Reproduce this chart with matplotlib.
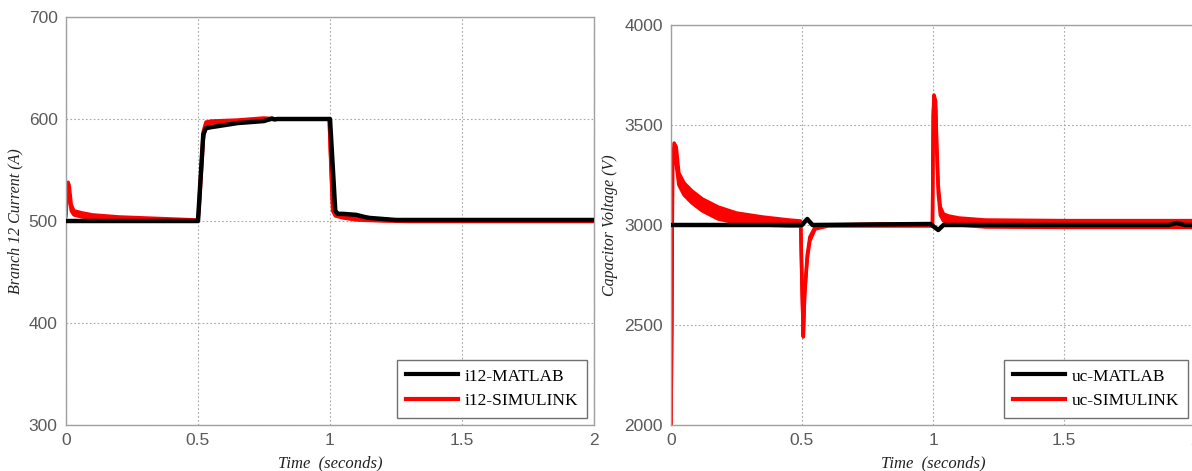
import numpy as np
import matplotlib
matplotlib.use("Agg")
import matplotlib.pyplot as plt

# ---------- data: left panel (branch 12 current) ----------
i12_mat_t = [0, 0.5, 0.52, 0.53, 0.55, 0.6, 0.65, 0.7, 0.75, 0.78, 0.79, 0.8, 1.0,
             1.02, 1.03, 1.05, 1.1, 1.13, 1.15, 1.2, 1.25, 2.0]
i12_mat = [500, 500, 585, 591, 592, 594, 596, 597, 598, 600.5, 599.5, 600, 600,
           510, 507, 507, 506, 504, 503, 502, 501, 501]

i12_sim_t = [0, 0.003, 0.008, 0.012, 0.02, 0.03, 0.06, 0.1, 0.2, 0.3, 0.5, 0.505,
             0.52, 0.53, 0.55, 0.65, 0.75, 0.8, 0.997, 1.003, 1.01, 1.02, 1.05, 1.1,
             1.2, 1.3, 1.4, 2.0]
i12_sim_hi = [508, 530, 538, 535, 516, 510, 508, 506, 504, 503, 501, 522,
              588, 597, 598, 599, 601, 600, 600, 560, 515, 507, 505, 503,
              501, 500.5, 500, 500]
i12_sim_lo = [505, 520, 530, 525, 510, 506, 504, 503, 502, 501, 500, 515,
              580, 594, 596, 598, 599, 600, 600, 555, 510, 505, 503, 501,
              500, 499.5, 499.5, 499.5]

# ---------- data: right panel (capacitor voltage) ----------
uc_mat_t = [0, 0.5, 0.52, 0.54, 0.99, 1.02, 1.04, 1.9, 1.93, 1.96, 2.0]
uc_mat = [3000, 3000, 3030, 3000, 3005, 2975, 3000, 3000, 3010, 3000, 3000]

uc_sim_t = [0, 0.003, 0.006, 0.012, 0.02, 0.03, 0.05, 0.08, 0.12, 0.18, 0.25,
            0.35, 0.45, 0.495, 0.5, 0.505, 0.51, 0.52, 0.53, 0.55, 0.6, 0.8,
            0.998, 1.001, 1.004, 1.01, 1.014, 1.02, 1.028, 1.04, 1.06, 1.1,
            1.2, 1.5, 1.8, 2.0]
uc_sim_hi = [2000, 2500, 3300, 3410, 3390, 3260, 3210, 3170, 3130, 3090, 3060,
             3040, 3025, 3020, 2700, 2450, 2650, 2850, 2940, 2990, 3000, 3005,
             3005, 3560, 3650, 3620, 3420, 3200, 3090, 3055, 3045, 3035,
             3025, 3022, 3022, 3022]
uc_sim_lo = [2000, 2500, 3300, 3380, 3300, 3200, 3150, 3110, 3070, 3030, 3010,
             3000, 2995, 2995, 2690, 2440, 2650, 2830, 2920, 2980, 2995, 2995,
             2995, 3540, 3630, 3580, 3380, 3160, 3050, 3020, 3010, 3000,
             2990, 2988, 2988, 2988]

xticks = [0, 0.5, 1, 1.5, 2]
xticklabels = ["0", "0.5", "1", "1.5", "2"]

GRID_C = "#a8a8a8"
SPINE_C = "#a0a0a0"
TICK_C = "#5a5a5a"
SERIF = ["Liberation Serif", "DejaVu Serif"]
SANS = ["Liberation Sans", "DejaVu Sans"]

fig = plt.figure(figsize=(11.92, 4.71), dpi=100)
ax1 = fig.add_axes([66 / 1192, 1 - 425 / 471, 528 / 1192, 408 / 471])
ax2 = fig.add_axes([671 / 1192, 1 - 425 / 471, 524 / 1192, 400 / 471])


def style_axes(ax, ylim, yticks, ylabel, xlabel):
    ax.set_xlim(0, 2)
    ax.set_ylim(*ylim)
    ax.set_xticks(xticks)
    ax.set_xticklabels(xticklabels)
    ax.set_yticks(yticks)
    ax.set_yticklabels([str(v) for v in yticks])
    for lab in ax.get_xticklabels() + ax.get_yticklabels():
        lab.set_family(SANS)
        lab.set_fontsize(12.5)
        lab.set_color(TICK_C)
    ax.tick_params(axis="both", length=0, pad=6)
    for sp in ax.spines.values():
        sp.set_color(SPINE_C)
        sp.set_linewidth(1.0)
    ax.grid(True, color=GRID_C, linewidth=0.8, linestyle=(0, (1.5, 2)))
    ax.set_axisbelow(True)
    ax.set_ylabel(ylabel, family=SERIF, style="italic", fontsize=11.5, color="#222222", labelpad=4)
    ax.set_xlabel(xlabel, family=SERIF, style="italic", fontsize=12, color="#222222", labelpad=5)


def draw_sim(ax, t, hi, lo, label):
    ax.fill_between(t, lo, hi, color="red", linewidth=0, zorder=2)
    ax.plot(t, hi, color="red", linewidth=2.5, zorder=2)
    ax.plot(t, lo, color="red", linewidth=2.5, zorder=2, label=label)


# left panel
ax1.plot(i12_mat_t, i12_mat, color="black", linewidth=3.2, zorder=3, label="i12-MATLAB")
draw_sim(ax1, i12_sim_t, i12_sim_hi, i12_sim_lo, "i12-SIMULINK")
style_axes(ax1, (300, 700), [300, 400, 500, 600, 700], "Branch 12 Current (A)", "Time  (seconds)")

# right panel
ax2.plot(uc_mat_t, uc_mat, color="black", linewidth=3.2, zorder=3, label="uc-MATLAB")
draw_sim(ax2, uc_sim_t, uc_sim_hi, uc_sim_lo, "uc-SIMULINK")
style_axes(ax2, (2000, 4000), [2000, 2500, 3000, 3500, 4000], "Capacitor Voltage (V)", "Time  (seconds)")

for ax in (ax1, ax2):
    leg = ax.legend(loc="lower right", prop={"family": SERIF, "size": 12.5},
                    fancybox=False, framealpha=1, edgecolor="#707070",
                    handlelength=3.0, handletextpad=0.4, borderpad=0.5,
                    labelspacing=0.5, borderaxespad=0.4)
    leg.get_frame().set_linewidth(1.0)
    for h in leg.get_lines():
        h.set_linewidth(3)

fig.savefig("out.png", dpi=100)
